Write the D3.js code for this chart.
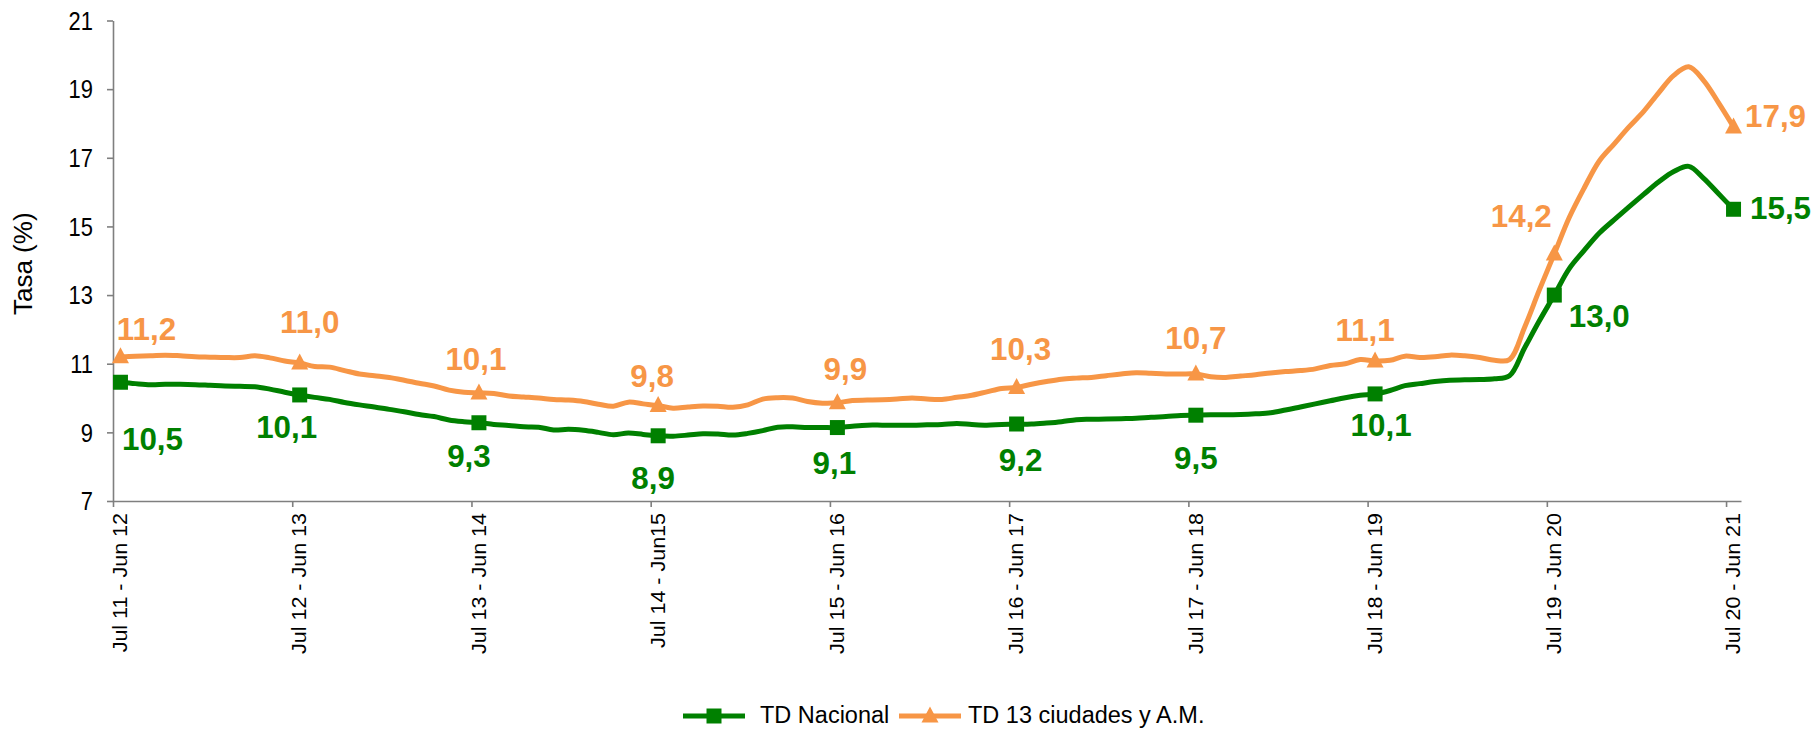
<!DOCTYPE html>
<html>
<head>
<meta charset="utf-8">
<script src="https://cdn.jsdelivr.net/npm/d3@7"></script>
<style>
  html, body { margin: 0; padding: 0; background: #ffffff; }
  svg { display: block; font-family: "Liberation Sans", Arial, sans-serif; }
</style>
</head>
<body>
<svg id="chart" width="1812" height="729"></svg>
<script>
// ---- data ----
const periodLabels = ["Jul 11 - Jun 12", "Jul 12 - Jun 13", "Jul 13 - Jun 14", "Jul 14 - Jun15",
  "Jul 15 - Jun 16", "Jul 16 - Jun 17", "Jul 17 - Jun 18", "Jul 18 - Jun 19",
  "Jul 19 - Jun 20", "Jul 20 - Jun 21"];
const yTicks = [7, 9, 11, 13, 15, 17, 19, 21];

// monthly rolling 12-month rates (Jul11-Jun12 ... Jul20-Jun21)
const tdNacional = [
  10.46, 10.42, 10.39, 10.40, 10.40, 10.39, 10.37, 10.35, 10.34, 10.33, 10.26, 10.17,
  10.09, 10.02, 9.96, 9.87, 9.80, 9.74, 9.67, 9.60, 9.52, 9.46, 9.36, 9.31,
  9.28, 9.23, 9.20, 9.16, 9.15, 9.07, 9.09, 9.06, 9.00, 8.93, 8.98, 8.94,
  8.90, 8.89, 8.92, 8.96, 8.95, 8.92, 8.97, 9.05, 9.15, 9.16, 9.14, 9.14,
  9.14, 9.18, 9.21, 9.21, 9.21, 9.21, 9.22, 9.23, 9.26, 9.23, 9.21, 9.23,
  9.24, 9.24, 9.27, 9.31, 9.37, 9.38, 9.39, 9.40, 9.41, 9.44, 9.46, 9.49,
  9.50, 9.51, 9.51, 9.52, 9.54, 9.57, 9.65, 9.74, 9.83, 9.92, 10.01, 10.08,
  10.12, 10.22, 10.36, 10.42, 10.48, 10.52, 10.53, 10.54, 10.56, 10.65, 11.45, 12.25,
  13.00, 13.77, 14.30, 14.80, 15.19, 15.57, 15.94, 16.30, 16.60, 16.75, 16.40, 15.95, 15.50
];
const td13Ciudades = [
  11.20, 11.22, 11.23, 11.25, 11.23, 11.20, 11.19, 11.18, 11.18, 11.23, 11.17, 11.08,
  11.02, 10.92, 10.90, 10.80, 10.70, 10.65, 10.60, 10.52, 10.43, 10.35, 10.23, 10.17,
  10.15, 10.13, 10.06, 10.03, 10.00, 9.96, 9.94, 9.90, 9.82, 9.76, 9.88, 9.83,
  9.78, 9.70, 9.74, 9.77, 9.76, 9.73, 9.80, 9.97, 10.01, 10.00, 9.90, 9.85,
  9.86, 9.93, 9.94, 9.95, 9.97, 10.00, 9.97, 9.96, 10.02, 10.08, 10.18, 10.28,
  10.31, 10.40, 10.48, 10.55, 10.58, 10.60, 10.65, 10.70, 10.74, 10.72, 10.70, 10.70,
  10.70, 10.62, 10.60, 10.64, 10.68, 10.73, 10.77, 10.80, 10.85, 10.95, 11.00, 11.12,
  11.08, 11.10, 11.22, 11.18, 11.20, 11.25, 11.23, 11.18, 11.10, 11.12, 12.05, 13.15,
  14.20, 15.26, 16.12, 16.90, 17.40, 17.90, 18.36, 18.90, 19.40, 19.65, 19.25, 18.60, 17.90
];
// values shown in the data labels at each yearly marker
const labelsNacional = [10.5, 10.1, 9.3, 8.9, 9.1, 9.2, 9.5, 10.1, 13.0, 15.5];
const labelsCiudades = [11.2, 11.0, 10.1, 9.8, 9.9, 10.3, 10.7, 11.1, 14.2, 17.9];
const markerStep = 12;

// label placement offsets (pixels, relative to the marker)
const offNacional = [[32, 68], [-13, 43], [-10, 44], [-5, 53], [-3, 46], [4, 47], [0, 54], [6, 42], [45, 32], [47, 10]];
const offCiudades = [[26, -17], [10, -30], [-3, -23], [-6, -19], [8, -23], [4, -27], [0, -25], [-10, -20], [-33, -27], [42, 0]];

const seriesList = [
  { name: "TD Nacional", values: tdNacional, labels: labelsNacional, offs: offNacional, color: "#008000", marker: "square" },
  { name: "TD 13 ciudades y A.M.", values: td13Ciudades, labels: labelsCiudades, offs: offCiudades, color: "#F79646", marker: "triangle" }
];

(function () {
  // ---- layout ----
  const svg = d3.select("#chart");
  const mLeft = 113, mRight = 1741, mTop = 20.5, mBottom = 501;
  const n = tdNacional.length;
  const x = d3.scaleLinear().domain([0, n]).range([mLeft, mRight]);
  const xc = i => x(i + 0.5);
  const y = d3.scaleLinear().domain([7, 21]).range([mBottom, mTop]);
  const axisColor = "#7f7f7f";
  const fmt = v => d3.format(".1f")(v).replace(".", ",");

  // y axis
  const yAxis = svg.append("g").attr("transform", `translate(${mLeft},0)`)
    .call(d3.axisLeft(y).tickValues(yTicks).tickSize(6).tickSizeOuter(0).tickFormat(""));
  yAxis.select(".domain").attr("stroke", axisColor).attr("stroke-width", 1.6);
  yAxis.selectAll(".tick line").attr("stroke", axisColor).attr("stroke-width", 1.6);
  svg.append("g").selectAll("text").data(yTicks).join("text")
    .attr("transform", d => `translate(${mLeft - 20},${y(d)}) scale(0.86,1)`)
    .attr("text-anchor", "end").attr("dy", "0.36em")
    .attr("font-size", 25.5).attr("fill", "#000")
    .text(d => d);

  // x axis
  const tickIdx = d3.range(0, n, markerStep);
  const xAxis = svg.append("g").attr("transform", `translate(0,${mBottom})`)
    .call(d3.axisBottom(x).tickValues(tickIdx).tickSize(6).tickSizeOuter(0).tickFormat(""));
  xAxis.select(".domain").attr("stroke", axisColor).attr("stroke-width", 1.6);
  xAxis.selectAll(".tick line").attr("stroke", axisColor).attr("stroke-width", 1.6);

  svg.append("g").selectAll("text").data(periodLabels).join("text")
    .attr("transform", (d, k) => `translate(${xc(tickIdx[k])},${mBottom + 12}) rotate(-90) scale(1,0.9)`)
    .attr("text-anchor", "end")
    .attr("dy", "0.35em")
    .attr("font-size", 21.5)
    .attr("fill", "#000")
    .text(d => d);

  // y title
  svg.append("text")
    .attr("transform", `translate(23,${(mTop + mBottom) / 2 + 3}) rotate(-90)`)
    .attr("text-anchor", "middle").attr("dy", "0.35em")
    .attr("font-size", 26).attr("fill", "#000")
    .text("Tasa (%)");

  // lines
  const line = d3.line().x((d, i) => xc(i)).y(d => y(d)).curve(d3.curveCatmullRom.alpha(0.5));
  const markerPath = (type, cx, cy) => {
    if (type === "square") return `M${cx - 7.5},${cy - 7.5}h15v15h-15z`;
    return `M${cx},${cy - 9.5}L${cx + 8.5},${cy + 6.5}L${cx - 8.5},${cy + 6.5}Z`;
  };

  seriesList.forEach(s => {
    const g = svg.append("g");
    g.append("path").datum(s.values).attr("d", line)
      .attr("fill", "none").attr("stroke", s.color).attr("stroke-width", 5)
      .attr("stroke-linejoin", "round").attr("stroke-linecap", "round");
    const idx = d3.range(0, n, markerStep);
    g.selectAll("path.mk").data(idx).join("path").attr("class", "mk")
      .attr("d", i => markerPath(s.marker, xc(i), y(s.values[i])))
      .attr("fill", s.color);
    g.selectAll("text").data(idx).join("text")
      .attr("transform", (i, k) => `translate(${xc(i) + s.offs[k][0]},${y(s.values[i]) + s.offs[k][1]}) scale(0.98,1)`)
      .attr("text-anchor", "middle")
      .attr("font-size", 32).attr("font-weight", "bold")
      .attr("fill", s.color)
      .text((i, k) => fmt(s.labels[k]));
  });

  // legend
  const legend = svg.append("g");
  const legendItems = [
    { x0: 683, textX: 760 },
    { x0: 899, textX: 968 }
  ];
  seriesList.forEach((s, k) => {
    const it = legendItems[k];
    const cy = 716;
    legend.append("line").attr("x1", it.x0).attr("x2", it.x0 + 62).attr("y1", cy).attr("y2", cy)
      .attr("stroke", s.color).attr("stroke-width", 5);
    legend.append("path").attr("d", markerPath(s.marker, it.x0 + 31, cy)).attr("fill", s.color);
    legend.append("text").attr("x", it.textX).attr("y", 723)
      .attr("font-size", 23.5).attr("fill", "#000").text(s.name);
  });
})();
</script>
</body>
</html>
